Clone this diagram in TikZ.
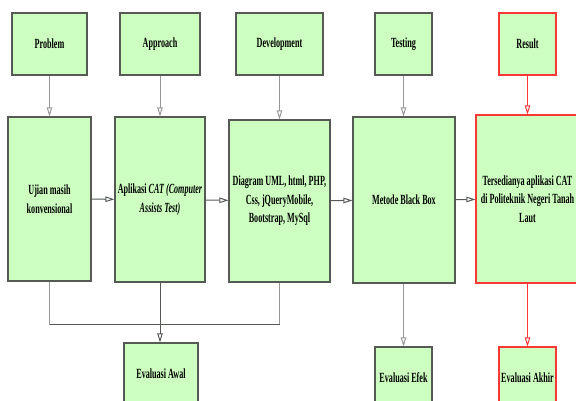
\documentclass[tikz,border=0pt]{standalone}
\usepackage{fontspec}
\setmainfont{Liberation Serif}[FakeStretch=0.58]
\usetikzlibrary{arrows.meta}
\definecolor{boxfill}{RGB}{205,255,192}
\definecolor{boxline}{RGB}{85,90,85}
\definecolor{linkgray}{RGB}{150,150,150}
\definecolor{resred}{RGB}{250,55,55}

\begin{document}
\begin{tikzpicture}[x=1pt, y=-1pt,
	box/.style={draw=boxline, fill=boxfill, line width=1.1pt, inner sep=0pt,
		align=center, font=\fontsize{14}{18.5}\selectfont\bfseries},
	redbox/.style={box, draw=resred},
	sz/.style 2 args={minimum width=#1pt, minimum height=#2pt},
	link/.style={draw=linkgray, line width=1pt, -{Triangle[open, length=9pt, width=5.5pt]}},
	redlink/.style={link, draw=resred}]
	\useasboundingbox (0,0) rectangle (576,401);
	\clip (0,0) rectangle (576,401);
	% stages
	\node[box, sz={75}{62}] (prob) at (49.5,44) {Problem};
	\node[box, sz={80}{62}] (appr) at (160,44) {Approach};
	\node[box, sz={87}{62}] (dev) at (279.5,44) {Development};
	\node[box, sz={57}{62}] (test) at (403.5,44) {Testing};
	\node[redbox, sz={57}{62}] (res) at (527.5,44) {Result};
	% contents
	\node[box, sz={83}{164}] (ujian) at (49.5,199) {Ujian masih\\konvensional};
	\node[box, sz={90}{165}] (apl) at (160,199.5) {Aplikasi \textit{CAT (Computer}\\\textit{Assists Test)}};
	\node[box, sz={101}{162}] (diag) at (279.5,201) {Diagram UML, html, PHP,\\Css, jQueryMobile,\\Bootstrap, MySql};
	\node[box, sz={102}{166}] (meto) at (404,200) {Metode Black Box};
	\node[redbox, sz={103}{168}] (ters) at (527.5,199) {Tersedianya aplikasi CAT\\di Politeknik Negeri Tanah\\Laut};
	% evaluations
	\node[box, sz={74}{62}] (awal) at (161,374) {Evaluasi Awal};
	\node[box, sz={57}{62}] (efek) at (403.5,378) {Evaluasi Efek};
	\node[redbox, sz={57}{62}] (akhir) at (527.5,378) {Evaluasi Akhir};
	% links
	\draw[link] (prob.south) -- (prob.south |- ujian.north);
	\draw[link] (appr.south) -- (appr.south |- apl.north);
	\draw[link] (dev.south) -- (dev.south |- diag.north);
	\draw[link] (test.south) -- (test.south |- meto.north);
	\draw[redlink] (res.south) -- (res.south |- ters.north);
	\draw[link, draw=boxline] (ujian) -- (apl);
	\draw[link, draw=boxline] (apl) -- (diag);
	\draw[link, draw=boxline] (diag) -- (meto);
	\draw[link, draw=boxline] (meto) -- (ters);
	\coordinate (join) at (160,324);
	\draw[draw=linkgray, line width=1pt] (ujian.south) |- (join) -| (diag.south);
	\draw[draw=boxline, line width=1pt] (ujian.south |- join) -- (diag.south |- join);
	\draw[link, draw=boxline] (apl.south) -- (apl.south |- awal.north);
	\draw[link] (meto.south -| efek.north) -- (efek.north);
	\draw[redlink] (ters.south -| akhir.north) -- (akhir.north);
\end{tikzpicture}
\end{document}
